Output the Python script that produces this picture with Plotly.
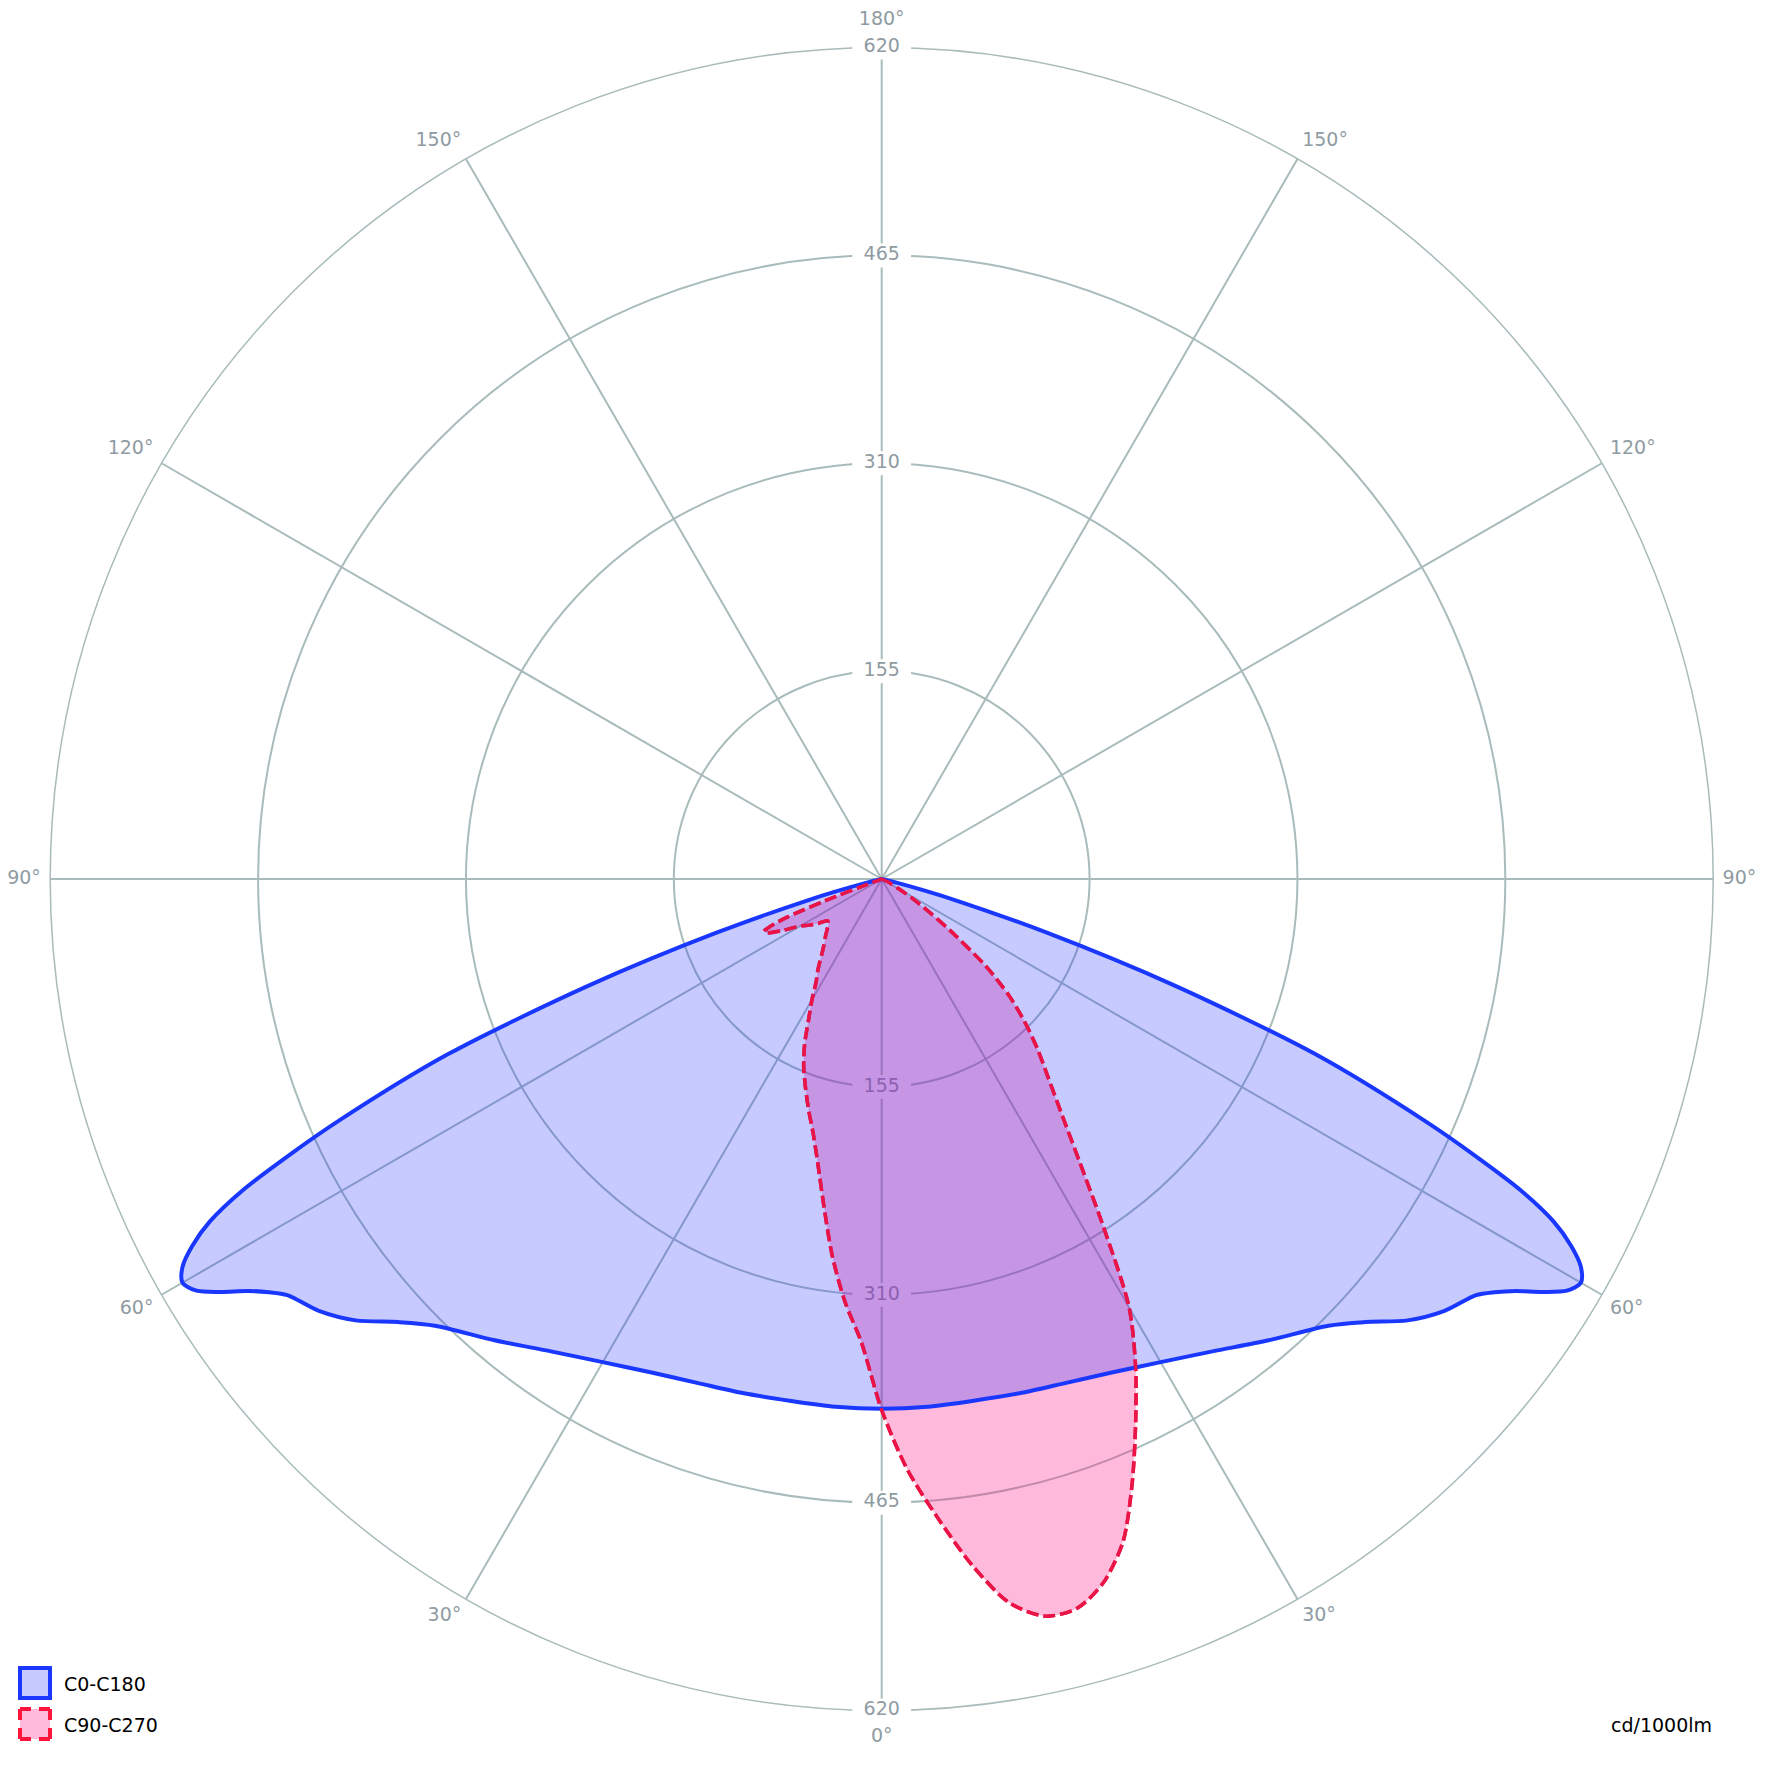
import plotly.graph_objects as go

# ---------------- data ----------------
# C0-C180 plane (symmetric), gamma in degrees, intensity in cd/1000lm
gamma_c0 = [0, 5, 10, 15, 20, 25, 30, 35, 40, 45, 47.5, 50, 52.5, 55, 56, 57, 58, 59,
            60, 61, 62, 63, 64, 65, 66, 68, 70, 72, 74, 75, 76, 78, 90]
int_c0 = [395, 395, 395, 397, 400, 406, 416, 430, 449, 471, 489, 512, 529, 541, 551, 564, 581, 596,
          602, 596, 582, 562, 531, 488, 443, 349, 233, 129, 55, 30, 12, 0, 0]
int_c180 = int_c0

# C90 side (right half of the red curve)
gamma_c90 = [0, 2.5, 5, 7.5, 10, 12.5, 15, 17.5, 20, 22.5, 25, 27.5, 30, 32.5, 35, 37.5,
             40, 42.5, 45, 47.5, 50, 52.5, 55, 57.5, 60, 65, 70, 90]
int_c90 = [396, 441, 478, 516, 548, 563, 563, 550, 526, 488, 448, 410, 369, 308, 257, 220,
           193, 172, 151, 129, 102, 70, 45, 28, 15, 5, 0, 0]

# C270 side (left half of the red curve)
gamma_c270 = [0, 2.5, 5, 7.5, 10, 12.5, 15, 17.5, 20, 22.5, 25, 27.5, 30, 32.5, 35, 40, 45,
              50, 52.5, 55, 57.5, 60, 62.5, 65, 66, 67, 68, 69, 70, 72, 90]
int_c270 = [396, 346, 316, 283, 248, 219, 197, 181, 166, 152, 136, 118, 104, 91, 83, 68, 59,
            52, 51, 58, 64, 70, 83, 95, 96, 90, 76, 45, 8, 0, 0]

radial_ticks = [155, 310, 465, 620]
angle_ticks = [0, 30, 60, 90, 120, 150, 180, 210, 240, 270, 300, 330]
angle_labels = ["0°", "30°", "60°", "90°", "120°", "150°", "180°", "150°", "120°", "90°", "60°", "30°"]
series_names = ["C0-C180", "C90-C270"]
unit_label = "cd/1000lm"

# ---------------- styling ----------------
FONT = "DejaVu Sans"
GRID = "#a9bbbb"
LABEL = "#8f9ba2"
BLUE = "rgb(25,55,255)"
BLUE_FILL = "rgba(27,43,255,0.25)"
BLUE_SWATCH = "rgb(198,202,255)"
RED = "rgb(235,20,70)"
RED_FILL = "rgba(255,22,132,0.30)"
RED_SWATCH = "rgb(255,185,218)"
W = 1772
OFF = 8  # page body margin in the browser
R_MAX = 620          # radial range of the chart
R_LABEL_MAX = 648    # radial range of the overlay used for the angle labels


def px(x):
    return (x - OFF) / W


def py(y):
    return 1 - (y - OFF) / W


def closed_curve(g_right, i_right, g_left, i_left):
    theta = [g for g in reversed(g_right)] + [-g for g in g_left[1:]]
    r = [v for v in reversed(i_right)] + list(i_left[1:])
    return theta, r


def label_pos(t):
    # radius and text anchoring for an angle label, by its position around the ring
    if t in (0, 180):
        return 640, "middle center"
    side = "right" if t < 180 else "left"
    g = t if t < 180 else 360 - t
    if g == 90:
        vert = "middle"
    elif g > 90:
        vert = "top"
    else:
        vert = "bottom"
    return 627, f"{vert} {side}"


blue_theta, blue_r = closed_curve(gamma_c0, int_c0, gamma_c0, int_c180)
red_theta, red_r = closed_curve(gamma_c90, int_c90, gamma_c270, int_c270)
lab_r = [label_pos(t)[0] for t in angle_ticks]
lab_pos = [label_pos(t)[1] for t in angle_ticks]

fig = go.Figure()

# radial value labels (top and bottom) with knock-out boxes under the fills
fig.add_trace(go.Scatterpolar(
    r=radial_ticks + radial_ticks,
    theta=[180] * len(radial_ticks) + [0] * len(radial_ticks),
    mode="markers+text",
    text=[str(v) for v in radial_ticks] * 2,
    textposition="middle center",
    textfont=dict(family=FONT, size=19, color=LABEL),
    marker=dict(symbol="line-ew", size=42, color="white",
                line=dict(width=24, color="white")),
    showlegend=False, hoverinfo="skip", cliponaxis=False,
))

fig.add_trace(go.Scatterpolar(
    r=red_r, theta=red_theta, mode="lines", fill="toself",
    fillcolor=RED_FILL, line=dict(color=RED, width=3.5, dash="12px,5px", shape="spline", smoothing=0.8),
    name=series_names[1], showlegend=False, hoverinfo="skip",
))

fig.add_trace(go.Scatterpolar(
    r=blue_r, theta=blue_theta, mode="lines", fill="toself",
    fillcolor=BLUE_FILL, line=dict(color=BLUE, width=4, shape="spline", smoothing=0.8),
    name=series_names[0], showlegend=False, hoverinfo="skip",
))

# red outline again on top
fig.add_trace(go.Scatterpolar(
    r=red_r, theta=red_theta, mode="lines",
    line=dict(color=RED, width=3.5, dash="12px,5px", shape="spline", smoothing=0.8),
    showlegend=False, hoverinfo="skip",
))

# angle labels on a transparent overlay polar with a slightly larger range
fig.add_trace(go.Scatterpolar(
    r=lab_r, theta=angle_ticks, subplot="polar2",
    mode="text", text=angle_labels, textposition=lab_pos,
    textfont=dict(family=FONT, size=19, color=LABEL),
    showlegend=False, hoverinfo="skip", cliponaxis=False,
))

# legend drawn as swatches + labels (box icons like the reference)
shapes = [
    dict(type="rect", xref="paper", yref="paper",
         x0=px(20), x1=px(50), y0=py(1698), y1=py(1668),
         fillcolor=BLUE_SWATCH, line=dict(color=BLUE, width=4)),
    dict(type="rect", xref="paper", yref="paper",
         x0=px(20), x1=px(50), y0=py(1739), y1=py(1709),
         fillcolor=RED_SWATCH, line=dict(color="rgb(255,20,60)", width=4, dash="11px,8px,11px,0px")),
]
annotations = [
    dict(text=series_names[0], xref="paper", yref="paper", x=px(62), y=py(1684),
         xanchor="left", yanchor="middle", showarrow=False,
         font=dict(family=FONT, size=19, color="black")),
    dict(text=series_names[1], xref="paper", yref="paper", x=px(62), y=py(1725),
         xanchor="left", yanchor="middle", showarrow=False,
         font=dict(family=FONT, size=19, color="black")),
    dict(text=unit_label, xref="paper", yref="paper", x=px(1661), y=py(1725),
         xanchor="center", yanchor="middle", showarrow=False,
         font=dict(family=FONT, size=19, color="black")),
]

cx, cy, R = 881.7, 879.0, 831.5
R2 = R * R_LABEL_MAX / R_MAX


def domain(radius):
    return dict(x=[px(cx - radius), px(cx + radius)], y=[py(cy + radius), py(cy - radius)])


hidden_axes = dict(showgrid=False, showline=False, showticklabels=False, ticks="")

fig.update_layout(
    width=W, height=W,
    margin=dict(l=0, r=0, t=0, b=0),
    paper_bgcolor="white",
    showlegend=False,
    font=dict(family=FONT, size=19, color=LABEL),
    polar=dict(
        domain=domain(R),
        bgcolor="white",
        angularaxis=dict(
            rotation=-90, direction="counterclockwise",
            tickmode="array", tickvals=angle_ticks, showticklabels=False,
            showgrid=True, gridcolor=GRID, gridwidth=1.5,
            showline=True, linecolor=GRID, linewidth=1.5,
            ticks="", layer="below traces",
        ),
        radialaxis=dict(
            range=[0, R_MAX], tickmode="array", tickvals=radial_ticks,
            showticklabels=False, ticks="", showline=False,
            showgrid=True, gridcolor=GRID, gridwidth=1.5, layer="below traces",
        ),
    ),
    polar2=dict(
        domain=domain(R2),
        bgcolor="rgba(0,0,0,0)",
        angularaxis=dict(rotation=-90, direction="counterclockwise", **hidden_axes),
        radialaxis=dict(range=[0, R_LABEL_MAX], **hidden_axes),
    ),
    shapes=shapes,
    annotations=annotations,
)

fig.write_html("out.html")
